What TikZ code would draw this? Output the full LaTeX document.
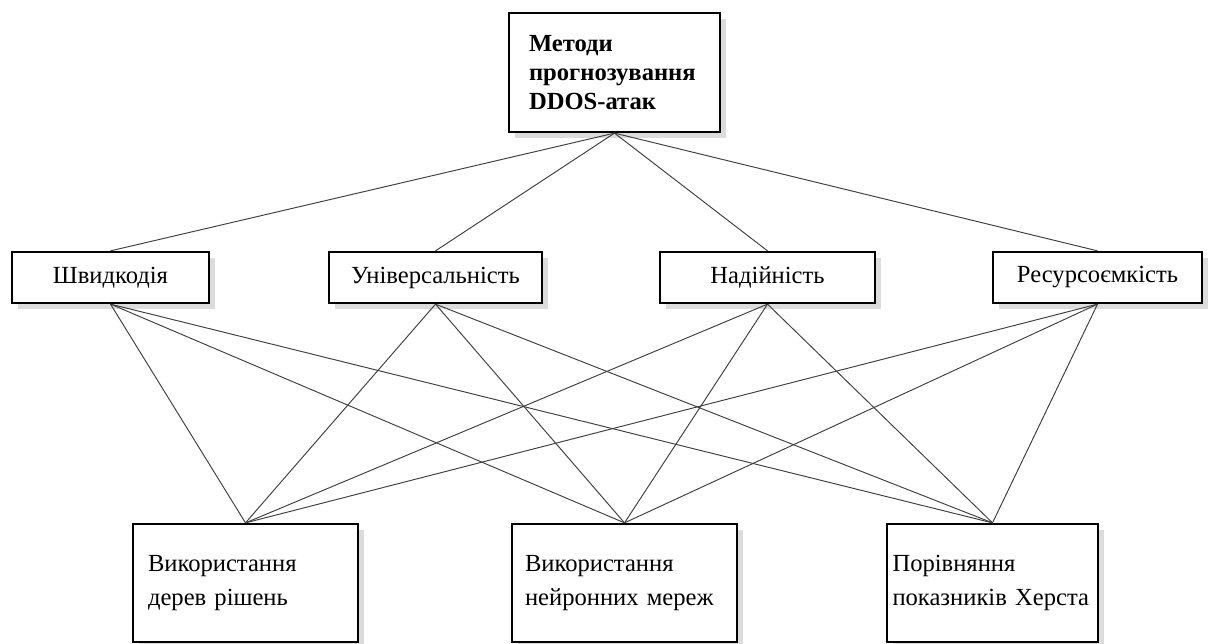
\documentclass[tikz,border=0pt]{standalone}
\usepackage{fontspec}
\setmainfont{Liberation Serif}
\usetikzlibrary{shadows}

\begin{document}
\begin{tikzpicture}[x=0.02cm, y=-0.02cm,
	every node/.style={font=\fontsize{14}{19.8}\selectfont},
	box/.style={draw, line width=1.3pt, fill=white, drop shadow={shadow xshift=3.5pt, shadow yshift=-3.5pt, fill=gray!55}},
	crit/.style={box, minimum height=1.02cm, inner sep=0pt},
	method/.style={box, minimum height=2.36cm, align=left},
	link/.style={draw=black!75, line width=0.55pt}]
	\useasboundingbox (0,0) rectangle (1209,644);
	% top
	\node[box, align=left, font=\bfseries\fontsize{14}{16.5}\selectfont, inner xsep=0.4cm, text width=3.42cm, minimum height=2.38cm] (goal) at (614.5,72.5) {Методи\\прогнозування\\DDOS-атак};
	% criteria
	\node[crit, minimum width=3.94cm] (speed) at (110.5,277.5) {Швидкодія};
	\node[crit, minimum width=4.26cm] (univ) at (435.5,277.5) {Універсальність};
	\node[crit, minimum width=4.30cm] (rel) at (767.5,277.5) {Надійність};
	\node[crit, minimum width=4.18cm] (res) at (1097.5,277.5) {Ресурсоємкість};
	% methods
	\node[method, inner xsep=0.3cm, text width=3.9cm] (tree) at (245.5,583) {Використання\\дерев рішень};
	\node[method, inner xsep=0.26cm, text width=3.98cm] (nn) at (624.5,583) {Використання\\нейронних мереж};
	\node[method, inner xsep=0.11cm, text width=4.0cm] (hurst) at (992.5,583) {Порівняння\\показників Херста};
	% links
	\foreach \c in {speed,univ,rel,res}
		\draw[link] (goal.south) -- (\c.north);
	\foreach \c in {speed,univ,rel,res}
		\foreach \m in {tree,nn,hurst}
			\draw[link] (\c.south) -- (\m.north);
\end{tikzpicture}
\end{document}
